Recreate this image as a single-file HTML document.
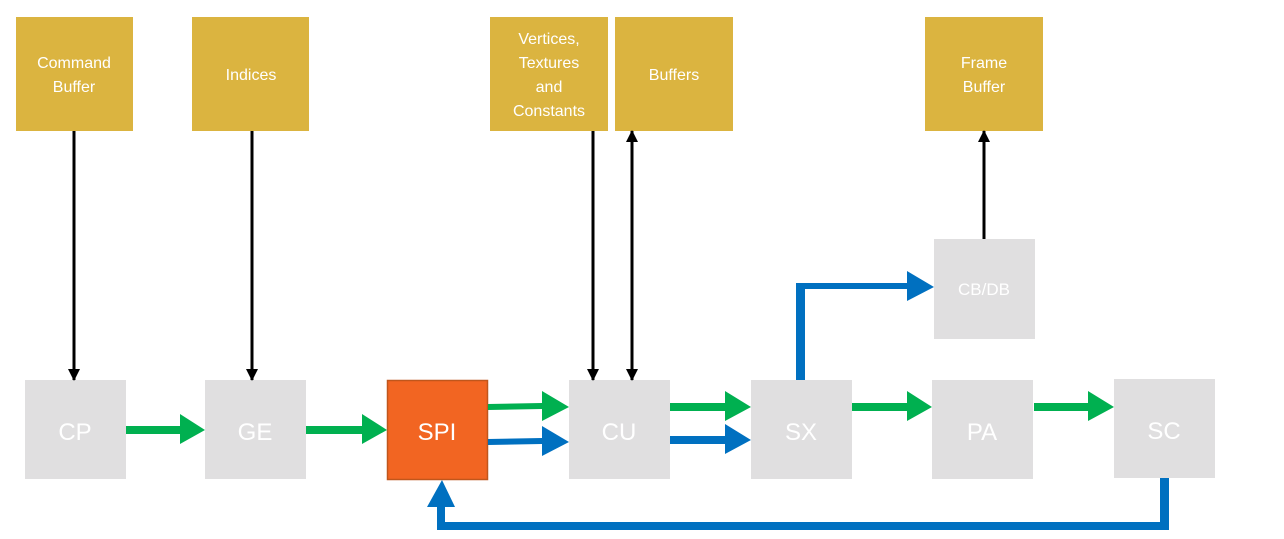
<!DOCTYPE html>
<html><head><meta charset="utf-8"><style>
html,body{margin:0;padding:0;background:#fff;}
svg{display:block;}
text{font-family:"Liberation Sans",sans-serif;fill:#fff;text-anchor:middle;}
.g{font-size:16px;}
.b{font-size:24px;}
</style></head><body>
<svg width="1284" height="539" viewBox="0 0 1284 539">
<defs>
<marker id="ak" markerWidth="12" markerHeight="12" refX="11" refY="6" orient="auto" markerUnits="userSpaceOnUse"><path d="M0,0L12,6L0,12z" fill="#000"/></marker>
</defs>
<g fill="#DBB440">
<rect x="16" y="17" width="117" height="114"/>
<rect x="192" y="17" width="117" height="114"/>
<rect x="490" y="17" width="118" height="114"/>
<rect x="615" y="17" width="118" height="114"/>
<rect x="925" y="17" width="118" height="114"/>
</g>
<text class="g" x="74" y="68">Command</text><text class="g" x="74" y="92">Buffer</text>
<text class="g" x="251" y="80">Indices</text>
<text class="g" x="549" y="44">Vertices,</text><text class="g" x="549" y="68">Textures</text><text class="g" x="549" y="92">and</text><text class="g" x="549" y="116">Constants</text>
<text class="g" x="674" y="80">Buffers</text>
<text class="g" x="984" y="68">Frame</text><text class="g" x="984" y="92">Buffer</text>
<g fill="#E0DFE0">
<rect x="25" y="380" width="101" height="99"/>
<rect x="205" y="380" width="101" height="99"/>
<rect x="569" y="380" width="101" height="99"/>
<rect x="751" y="380" width="101" height="99"/>
<rect x="932" y="380" width="101" height="99"/>
<rect x="1114" y="379" width="101" height="99"/>
<rect x="934" y="239" width="101" height="100"/>
</g>
<rect x="387.5" y="380.5" width="100" height="99" fill="#F26522" stroke="#C0561C" stroke-width="1.5"/>
<text class="b" x="75" y="440">CP</text>
<text class="b" x="255" y="440">GE</text>
<text class="b" x="437" y="440">SPI</text>
<text class="b" x="619" y="440">CU</text>
<text class="b" x="801" y="440">SX</text>
<text class="b" x="982" y="440">PA</text>
<text class="b" x="1164" y="439">SC</text>
<text class="g" x="984" y="295" style="font-size:17px">CB/DB</text>
<g stroke="#000" stroke-width="3" fill="none">
<line x1="74" y1="131" x2="74" y2="380" marker-end="url(#ak)"/>
<line x1="252" y1="131" x2="252" y2="380" marker-end="url(#ak)"/>
<line x1="593" y1="131" x2="593" y2="380" marker-end="url(#ak)"/>
<line x1="632" y1="370" x2="632" y2="131" marker-end="url(#ak)"/>
<line x1="632" y1="140" x2="632" y2="380" marker-end="url(#ak)"/>
<line x1="984" y1="239" x2="984" y2="131" marker-end="url(#ak)"/>
</g>
<g fill="#00B050">
<path d="M126,426h54v-12l25,16l-25,14v-10h-54z"/>
<path d="M306,426h56v-12l25,16l-25,14v-10h-56z"/>
<path d="M488,404l54,-1v-12l27,16l-27,14v-12l-54,1z"/>
<path d="M670,403h55v-12l26,16l-26,14v-10h-55z"/>
<path d="M852,403h55v-12l25,16l-25,14v-10h-55z"/>
<path d="M1034,403h54v-12l26,16l-26,14v-10h-54z"/>
</g>
<g fill="#0070C0">
<path d="M488,439l54,-1v-12l27,16l-27,14v-12l-54,1z"/>
<path d="M670,436h55v-12l26,16l-26,14v-10h-55z"/>
<path d="M796,380v-97h111v-12l27,16l-27,14v-12h-102v91z"/>
<path d="M1160,478h9v52h-732v-23h-10l15,-27l13,27h-10v15h715z"/>
</g>
</svg>
</body></html>
